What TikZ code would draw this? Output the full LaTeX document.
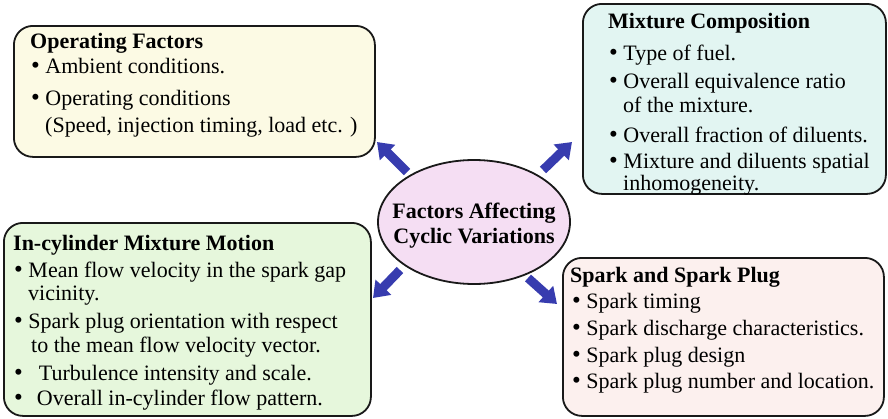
\documentclass[tikz,border=0pt]{standalone}
\usepackage{fontspec}
\setmainfont{Liberation Serif}
\usetikzlibrary{arrows.meta,shapes.geometric}
\definecolor{fillA}{RGB}{252,250,228}
\definecolor{fillB}{RGB}{226,245,242}
\definecolor{fillC}{RGB}{230,247,220}
\definecolor{fillD}{RGB}{252,240,238}
\definecolor{fillE}{RGB}{245,222,243}
\definecolor{arrowblue}{RGB}{55,60,175}
\definecolor{edge}{RGB}{25,25,25}
\newcommand{\bul}{{\fontsize{25}{25}\selectfont\textbullet}}
\begin{document}
\begin{tikzpicture}[x=1pt,y=-1pt,
  box/.style={draw=edge, line width=1.8pt, rounded corners=19pt, anchor=north west, inner sep=0pt},
  txt/.style={anchor=base west, inner sep=0pt, font=\fontsize{22}{25}\selectfont},
  ttl/.style={anchor=base west, inner sep=0pt, font=\fontsize{22}{25}\selectfont\bfseries},
  ctr/.style={anchor=base, inner sep=0pt, font=\fontsize{22}{25}\selectfont\bfseries},
  bigarrow/.style={draw=arrowblue, line width=9pt, -{Triangle[length=15pt,width=21pt]}}]
\fill[white] (0,0) rectangle (888,418);
\useasboundingbox (0,0) rectangle (888,418);

% boxes
\node[box, fill=fillA, minimum width=361pt, minimum height=131pt] (b1) at (13,25) {};
\node[box, fill=fillB, minimum width=303pt, minimum height=190pt] (b2) at (582,3) {};
\node[box, fill=fillC, minimum width=367pt, minimum height=193pt] (b3) at (3,222) {};
\node[box, fill=fillD, minimum width=321pt, minimum height=158pt] (b4) at (562,257) {};

% centre
\node[ellipse, draw=edge, line width=1.8pt, fill=fillE, minimum width=192pt, minimum height=124pt,
      inner sep=0pt] (ell) at (474,222) {};
\node[ctr] (ellA) at (474,218) {Factors Affecting};
\node[ctr] (ellB) at (474,243) {Cyclic Variations};

% box 1 text
\node[ttl] (t1) at (30,48) {Operating Factors};
\node[txt] (t1a) at (31,73) {\bul\ Ambient conditions.};
\node[txt] (t1b) at (31,105) {\bul\ Operating conditions};
\node[txt] (t1c) at (45,132) {(Speed, injection timing, load etc. )};

% box 2 text
\node[ttl] (t2) at (608,28) {Mixture Composition};
\node[txt] (t2a) at (609,60) {\bul\ Type of fuel.};
\node[txt] (t2b) at (609,88) {\bul\ Overall equivalence ratio};
\node[txt] (t2c) at (623,112) {of the mixture.};
\node[txt] (t2d) at (609,142) {\bul\ Overall fraction of diluents.};
\node[txt] (t2e) at (609,168) {\bul\ Mixture and diluents spatial};
\node[txt] (t2f) at (623,190) {inhomogeneity.};

% box 3 text
\node[ttl] (t3) at (13,250) {In-cylinder Mixture Motion};
\node[txt] (t3a) at (14,277) {\bul\ Mean flow velocity in the spark gap};
\node[txt] (t3b) at (28,300) {vicinity.};
\node[txt] (t3c) at (14,328) {\bul\ Spark plug orientation with respect};
\node[txt] (t3d) at (31,352) {to the mean flow velocity vector.};
\node[txt] (t3e) at (14,380) {\bul\hspace{16pt}Turbulence intensity and scale.};
\node[txt] (t3f) at (14,405) {\bul\hspace{14pt}Overall in-cylinder flow pattern.};

% box 4 text
\node[ttl] (t4) at (570,282) {Spark and Spark Plug};
\node[txt] (t4a) at (572,308) {\bul\ Spark timing};
\node[txt] (t4b) at (572,335) {\bul\ Spark discharge characteristics.};
\node[txt] (t4c) at (572,362) {\bul\ Spark plug design};
\node[txt] (t4d) at (572,388) {\bul\ Spark plug number and location.};

% arrows
\coordinate (a1s) at (407,172); \coordinate (a1e) at (377,142);
\coordinate (a2s) at (543,170); \coordinate (a2e) at (572,142);
\coordinate (a3s) at (400,270); \coordinate (a3e) at (373,298);
\coordinate (a4s) at (528,278); \coordinate (a4e) at (557,304);
\draw[bigarrow] (a1s) -- (a1e);
\draw[bigarrow] (a2s) -- (a2e);
\draw[bigarrow] (a3s) -- (a3e);
\draw[bigarrow] (a4s) -- (a4e);
\end{tikzpicture}
\end{document}
